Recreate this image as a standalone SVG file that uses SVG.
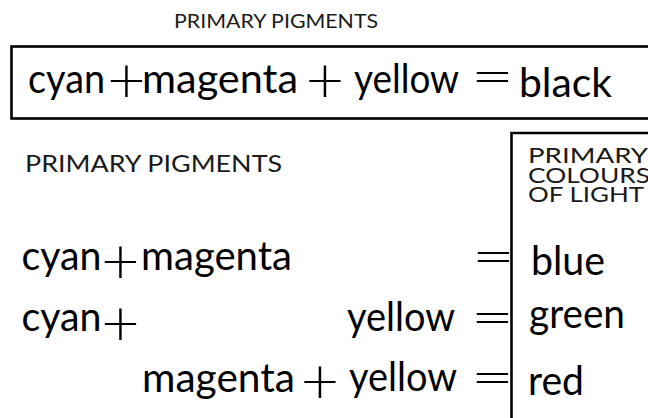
<svg xmlns="http://www.w3.org/2000/svg" width="648" height="418" viewBox="0 0 648 418">
<style>
.w{font-family:Lato,"Open Sans","DejaVu Sans",sans-serif;font-size:40px;fill:#000}
.op{font-family:"DejaVu Sans",sans-serif;font-weight:200;font-size:50px;fill:#000;text-anchor:middle}
.cap{font-family:Lato,"Open Sans","DejaVu Sans",sans-serif;font-weight:400;fill:#1a1a1a}
.box{fill:none;stroke:#000;stroke-width:2.6}
</style>
<rect width="648" height="418" fill="#fff"/>
<g id="title">
<text class="cap" x="174" y="28" font-size="19" textLength="204" lengthAdjust="spacingAndGlyphs">PRIMARY PIGMENTS</text>
</g>
<g id="top-equation">
<rect class="box" x="11.5" y="46.5" width="700" height="72"/>
<text class="w" x="28" y="93" textLength="77" lengthAdjust="spacingAndGlyphs">cyan</text>
<text class="op" x="126.5" y="97.2">+</text>
<text class="w" x="142" y="93" textLength="156" lengthAdjust="spacingAndGlyphs">magenta</text>
<text class="op" x="325" y="97.2">+</text>
<text class="w" x="354" y="93" textLength="105" lengthAdjust="spacingAndGlyphs">yellow</text>
<text class="op" x="492.5" y="93">=</text>
<text class="w" x="519" y="97" textLength="93" lengthAdjust="spacingAndGlyphs">black</text>
</g>
<g id="pigments-label">
<text class="cap" x="25" y="172" font-size="23.5" textLength="257" lengthAdjust="spacingAndGlyphs">PRIMARY PIGMENTS</text>
</g>
<g id="mixes">
<text class="w" x="21.5" y="270" textLength="80" lengthAdjust="spacingAndGlyphs">cyan</text>
<text class="op" x="120.5" y="277.5">+</text>
<text class="w" x="141" y="270" textLength="151" lengthAdjust="spacingAndGlyphs">magenta</text>
<text class="op" x="493.5" y="273">=</text>
<text class="w" x="21.5" y="331" textLength="80" lengthAdjust="spacingAndGlyphs">cyan</text>
<text class="op" x="120.5" y="339.5">+</text>
<text class="w" x="347" y="331" textLength="108" lengthAdjust="spacingAndGlyphs">yellow</text>
<text class="op" x="492.5" y="334">=</text>
<text class="w" x="142" y="392" textLength="153" lengthAdjust="spacingAndGlyphs">magenta</text>
<text class="op" x="320" y="397.5">+</text>
<text class="w" x="349" y="391" textLength="108" lengthAdjust="spacingAndGlyphs">yellow</text>
<text class="op" x="492.5" y="393.5">=</text>
</g>
<g id="light-column">
<path class="box" d="M511.5 430 V133 H700"/>
<text class="cap" x="528" y="163" font-size="20.5" textLength="120" lengthAdjust="spacingAndGlyphs">PRIMARY</text>
<text class="cap" x="528" y="182.5" font-size="20.5" textLength="122" lengthAdjust="spacingAndGlyphs">COLOURS</text>
<text class="cap" x="528" y="201.5" font-size="20.5" textLength="116" lengthAdjust="spacingAndGlyphs">OF LIGHT</text>
<text class="w" x="531" y="275" textLength="74" lengthAdjust="spacingAndGlyphs">blue</text>
<text class="w" x="529" y="328" textLength="96" lengthAdjust="spacingAndGlyphs">green</text>
<text class="w" x="528" y="395" textLength="56" lengthAdjust="spacingAndGlyphs">red</text>
</g>
</svg>
